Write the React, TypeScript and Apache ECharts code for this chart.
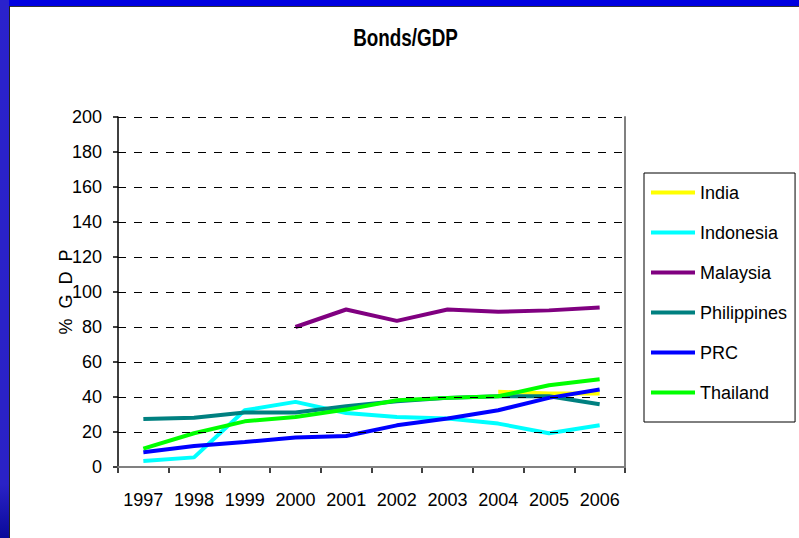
import React, { useEffect, useRef } from "react";
import * as echarts from "echarts";

const years = ["1997", "1998", "1999", "2000", "2001", "2002", "2003", "2004", "2005", "2006"];
const india = [null, null, null, null, null, null, null, 43, 42, 42];
const indonesia = [3.4, 5.5, 32.4, 37.2, 30.9, 28.6, 27.7, 24.8, 19.3, 23.8];
const malaysia = [null, null, null, 80, 90, 83.5, 90, 88.7, 89.5, 91.2];
const philippines = [27.4, 28.2, 31.1, 31.1, 34.7, 37.6, 39.5, 40.4, 40.4, 35.8];
const prc = [8.4, 12.0, 14.3, 16.8, 17.7, 23.8, 27.7, 32.4, 39.5, 44.3];
const thailand = [10.5, 19.3, 26.1, 28.6, 32.8, 38.1, 39.5, 40.4, 46.7, 50.2];
const yTicks = { min: 0, max: 200, interval: 20 };
const titleText = "Bonds/GDP";
const yAxisName = "%\u00A0\u00A0G\u00A0\u00A0D\u00A0\u00A0P";

const FONT = "'Liberation Sans', Arial, sans-serif";

export default function App() {
  const ref = useRef<HTMLDivElement>(null);
  useEffect(() => {
    if (!ref.current) return;
    const chart = echarts.init(ref.current, null, { renderer: "svg" });
    const mk = (name: string, data: (number | null)[], color: string) => ({
      name,
      type: "line",
      data,
      symbol: "none",
      color,
      lineStyle: { width: 4, color },
      connectNulls: false,
    });
    chart.setOption({
      animation: false,
      backgroundColor: "#ffffff",
      textStyle: { fontFamily: FONT },
      graphic: [
        { type: "rect", shape: { x: 0, y: 0, width: 799, height: 6 }, style: { fill: "#0000e0" }, silent: true },
        { type: "rect", shape: { x: 0, y: 6, width: 799, height: 1 }, style: { fill: "#333333" }, silent: true },
        {
          type: "rect",
          shape: { x: 0, y: 0, width: 9, height: 538 },
          style: {
            fill: new echarts.graphic.LinearGradient(0, 0, 0, 1, [
              { offset: 0, color: "#2a22cc" },
              { offset: 0.9, color: "#2a22c6" },
              { offset: 1, color: "#0a0a9a" },
            ]),
          },
          silent: true,
        },
        { type: "rect", shape: { x: 9, y: 6, width: 1, height: 532 }, style: { fill: "#222222" }, silent: true },
        {
          type: "text",
          x: 405.5,
          y: 38,
          scaleX: 0.82,
          style: {
            text: titleText,
            align: "center",
            verticalAlign: "middle",
            fontFamily: FONT,
            fontWeight: "bold",
            fontSize: 23,
            fill: "#000",
          },
          silent: true,
        },
        {
          type: "text",
          x: 66,
          y: 292,
          rotation: Math.PI / 2,
          style: {
            text: yAxisName,
            align: "center",
            verticalAlign: "middle",
            fontFamily: FONT,
            fontSize: 18,
            fill: "#000",
          },
          silent: true,
        },
      ],
      legend: {
        orient: "vertical",
        left: 644,
        top: 173,
        padding: [9, 8, 19, 7],
        borderColor: "#000",
        borderWidth: 1,
        itemWidth: 44,
        itemHeight: 4,
        itemGap: 19,
        icon: "rect",
        textStyle: { fontFamily: FONT, fontSize: 18, color: "#000", lineHeight: 21 },
        data: ["India", "Indonesia", "Malaysia", "Philippines", "PRC", "Thailand"],
      },
      grid: { left: 118, top: 117, width: 507, height: 350, containLabel: false },
      xAxis: [
        {
          type: "category",
          data: years,
          boundaryGap: true,
          axisLine: { lineStyle: { color: "#000", width: 1.5 } },
          axisTick: { show: true, length: 6, lineStyle: { color: "#000", width: 1.5 } },
          axisLabel: { color: "#000", fontFamily: FONT, fontSize: 18, margin: 24, interval: 0 },
          splitLine: { show: false },
          z: 5,
        },
        {
          type: "category",
          data: years,
          position: "top",
          axisLine: { lineStyle: { color: "#808080", width: 2 } },
          axisTick: { show: false },
          axisLabel: { show: false },
          z: 6,
        },
      ],
      yAxis: [
        {
          type: "value",
          min: yTicks.min,
          max: yTicks.max,
          interval: yTicks.interval,
          axisLine: { show: true, lineStyle: { color: "#000", width: 1.5 } },
          axisTick: { show: true, length: 5, lineStyle: { color: "#000", width: 1.5 } },
          axisLabel: { color: "#000", fontFamily: FONT, fontSize: 18, margin: 16 },
          splitLine: { show: true, lineStyle: { color: "#000", width: 1, type: [8, 8] } },
          z: 5,
        },
        {
          type: "value",
          min: yTicks.min,
          max: yTicks.max,
          interval: yTicks.interval,
          position: "right",
          axisLine: { show: true, lineStyle: { color: "#808080", width: 2 } },
          axisTick: { show: false },
          axisLabel: { show: false },
          splitLine: { show: false },
          z: 6,
        },
      ],
      series: [
        mk("India", india, "#ffff00"),
        mk("Indonesia", indonesia, "#00ffff"),
        mk("Malaysia", malaysia, "#800080"),
        mk("Philippines", philippines, "#008080"),
        mk("PRC", prc, "#0000ff"),
        mk("Thailand", thailand, "#00ff00"),
      ],
    });
    return () => chart.dispose();
  }, []);
  return (
    <div
      ref={ref}
      style={{ position: "fixed", left: 0, top: 0, width: 799, height: 538, background: "#fff" }}
    />
  );
}
